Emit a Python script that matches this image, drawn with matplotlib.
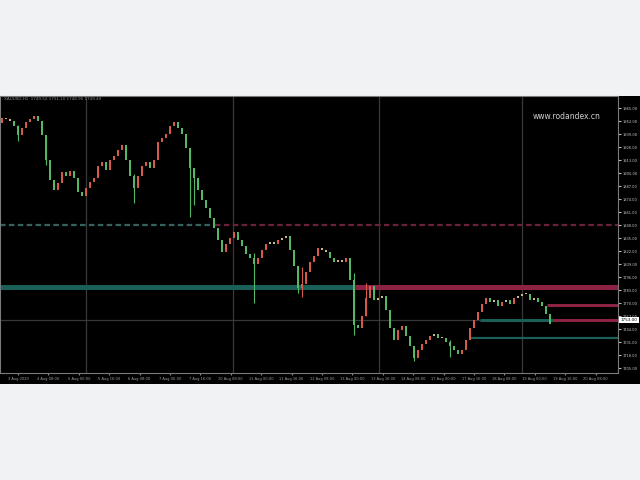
import matplotlib
matplotlib.use("Agg")
import matplotlib.pyplot as plt
from matplotlib.patches import Rectangle

# Datos (precio de cierre por vela)
closes = [1955, 1954, 1952, 1947, 1938, 1945, 1951, 1954, 1957, 1952,
          1938, 1913, 1893, 1883, 1890, 1901, 1897, 1902, 1895, 1881,
          1877, 1885, 1891, 1895, 1907, 1911, 1903, 1913, 1917, 1923,
          1928, 1913, 1897, 1885, 1897, 1907, 1911, 1905, 1913, 1931,
          1935, 1939, 1947, 1951, 1945, 1939, 1925, 1905, 1895, 1883,
          1873, 1865, 1855, 1845, 1833, 1821, 1829, 1835, 1841, 1833,
          1827, 1819, 1815, 1809, 1815, 1823, 1829, 1831, 1829, 1833,
          1835, 1837, 1823, 1807, 1785, 1789, 1801, 1811, 1817, 1825,
          1823, 1821, 1815, 1811, 1813, 1811, 1815, 1793, 1748, 1745,
          1757, 1775, 1787, 1773, 1775, 1777, 1763, 1745, 1733, 1743,
          1747, 1737, 1727, 1715, 1723, 1729, 1733, 1737, 1739, 1735,
          1735, 1731, 1727, 1723, 1719, 1723, 1733, 1745, 1753, 1761,
          1769, 1775, 1771, 1773, 1767, 1771, 1773, 1769, 1775, 1777,
          1779, 1779, 1773, 1775, 1771, 1767, 1759, 1749]
open_inicial = 1950

# Mechas largas (vela, mínimo, máximo)
mechas_idx = [4, 11, 33, 47, 48, 63, 74, 75, 88, 91, 103, 112]
mechas_min = [1932, 1908, 1870, 1856, 1868, 1770, 1780, 1776, 1738, 1772, 1712, 1716]
mechas_max = [1948, 1922, 1899, 1908, 1900, 1820, 1800, 1806, 1800, 1790, 1726, 1733]

# Niveles horizontales
niveles = [1848, 1786, 1768, 1753, 1735]
niveles_inicio = [53.3, 88.2, 136.3, 119.5, 117.0]
cambio_color = [53.3, 88.2, 0, 137.8, 999]

grid_x = [21, 57.75, 94.25, 130]
fechas = ['3 Aug 2020', '4 Aug 08:00', '5 Aug 00:00', '5 Aug 16:00', '6 Aug 08:00',
          '7 Aug 00:00', '7 Aug 16:00', '10 Aug 08:00', '11 Aug 00:00', '11 Aug 16:00',
          '12 Aug 08:00', '13 Aug 00:00', '13 Aug 16:00', '14 Aug 08:00', '17 Aug 00:00',
          '17 Aug 16:00', '18 Aug 08:00', '19 Aug 00:00', '19 Aug 16:00', '20 Aug 08:00']

W, H = 640, 480
fig = plt.figure(figsize=(6.4, 4.8), dpi=100)
fig.patch.set_facecolor('#f1f2f4')

# Fondo negro del gráfico (incluye escala de precios y fechas)
fig.patches.append(Rectangle((0, 1 - 384 / H), 1, (384 - 96) / H, transform=fig.transFigure,
                             facecolor='black', edgecolor='none', zorder=-5))

ax = fig.add_axes([0, 1 - 373 / H, 618 / W, (373 - 96) / H])
ax.set_zorder(2)
ax.set_facecolor('black')
ax.set_xlim(-0.5, 154)
ax.set_ylim(1700, 1977)

for s in ax.spines.values():
    s.set_color('#7a7a7a')
    s.set_linewidth(0.8)

# Rejilla
for gx in grid_x:
    ax.axvline(gx, color='#383838', lw=0.9, zorder=1)
ax.axhline(1753, color='#383838', lw=0.9, zorder=1)

# Niveles
teal = '#1b6058'
rojo = '#8c2342'
xmax = 154
# nivel 1 discontinuo
ax.hlines(niveles[0], -0.5, cambio_color[0], color='#36625e', lw=1.6, linestyles=(0, (2.5, 1.5)), zorder=2)
ax.hlines(niveles[0], cambio_color[0], xmax, color='#6a2238', lw=1.6, linestyles=(0, (2.5, 1.5)), zorder=2)
# nivel 2 grueso
ax.hlines(niveles[1], -0.5, cambio_color[1], color=teal, lw=3.6, zorder=2)
ax.hlines(niveles[1], cambio_color[1], xmax, color=rojo, lw=3.6, zorder=2)
# nivel 3
ax.hlines(niveles[2], niveles_inicio[2], xmax, color=rojo, lw=2.2, zorder=2)
# nivel 4
ax.hlines(niveles[3], niveles_inicio[3], cambio_color[3], color=teal, lw=2.2, zorder=2)
ax.hlines(niveles[3], cambio_color[3], xmax, color=rojo, lw=2.2, zorder=2)
# nivel 5
ax.hlines(niveles[4], niveles_inicio[4], xmax, color=teal, lw=1.6, zorder=2)

# Velas
opens = [open_inicial] + closes[:-1]
for i, (o, c) in enumerate(zip(opens, closes)):
    col = '#d65a4c' if c > o else '#55b868'
    if abs(c - o) <= 2:
        col = '#cdb88a'
    lo, hi = min(o, c), max(o, c)
    if i in mechas_idx:
        k = mechas_idx.index(i)
        lo, hi = min(lo, mechas_min[k]), max(hi, mechas_max[k])
        ax.vlines(i, lo, hi, color=col, lw=0.8, zorder=3)
    ax.add_patch(Rectangle((i - 0.27, min(o, c)), 0.54, max(abs(c - o), 1.5),
                           facecolor=col, edgecolor='none', zorder=4))

# Escala de precios a la derecha
ax.yaxis.tick_right()
ticks = [1705 + 13 * k for k in range(21)]
ax.set_yticks(ticks)
ax.set_yticklabels(['%.2f' % t for t in ticks], fontsize=2.6, color='#c8c8c8')
ax.tick_params(axis='y', length=2, color='#bbbbbb', pad=1)

# Fechas abajo
xt = [4 + 7.6 * k for k in range(len(fechas))]
ax.set_xticks(xt)
ax.set_xticklabels(fechas, fontsize=2.6, color='#a0a0a0')
ax.tick_params(axis='x', length=1.5, color='#888888', pad=1.5)

# Precio actual
ax.text(1.004, (1753 - 1700) / 277, '1753.00', transform=ax.transAxes, fontsize=3,
        color='black', va='center', ha='left',
        bbox=dict(boxstyle='square,pad=0.35', facecolor='white', edgecolor='none'))

# Textos
ax.text(0.006, 0.995, 'XAUUSD,H1  1749.52 1751.10 1748.95 1749.40', transform=ax.transAxes,
        fontsize=3, color='#8a8a8a', va='top', ha='left')
ax.text(0.862, 0.925, 'www.rodandex.cn', transform=ax.transAxes, fontsize=5.5,
        color='#d0d0d0', va='center', ha='left')

fig.savefig('out.png', dpi=100, facecolor=fig.get_facecolor())
